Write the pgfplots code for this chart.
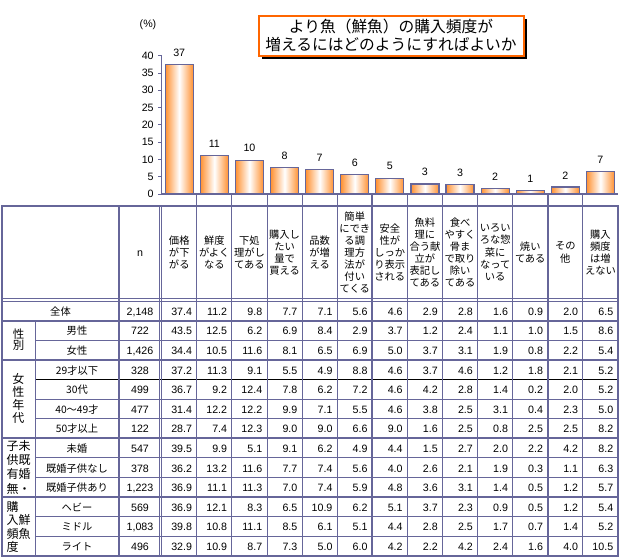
\documentclass[border=0pt]{standalone}
\usepackage{pgfplots}
\pgfplotsset{compat=1.18}
\usepackage{fontspec}
\setmainfont{Liberation Sans}
\newfontfamily\jp{Noto Sans CJK JP}
\definecolor{tline}{RGB}{102,102,153}
\definecolor{barorange}{RGB}{255,145,50}
\definecolor{boxorange}{RGB}{255,102,0}
\begin{document}
\begin{tikzpicture}
\path[use as bounding box] (0,0) rectangle (464.25pt,-417.75pt);
\begin{scope}[x=0.75pt,y=-0.75pt]
% ---------- title ----------
\fill[black] (262,19) rectangle (527,59);
\draw[boxorange, line width=1.2pt, fill=white] (259,16) rectangle (524,56);
\node[align=center, inner sep=0pt, font=\jp\fontsize{11.8}{13.5}\selectfont] at (391,35) {より魚（鮮魚）の購入頻度が\\増えるにはどのようにすればよいか};
\node[font=\fontsize{8}{8}\selectfont, inner sep=0pt] at (148,25) {(\%)};
% ---------- table lines ----------
\tikzset{thin/.style={tline, line width=0.75pt}, thick/.style={tline, line width=1.6pt}}
\foreach \yy in {298.3,301} \draw[thin] (2,\yy) -- (618,\yy);
\foreach \yy in {340.2,399,418.6,457.8,477.4,516.6,536.2} \draw[thin] (35,\yy) -- (618,\yy);
\draw[black, line width=0.75pt] (35,379.4) -- (618,379.4);
\draw[thin] (35,320.6) -- (35,556);
\foreach \xx in {159.3,161.7} \draw[thin] (\xx,206) -- (\xx,556);
\foreach \k in {1,2,3,4,5,7,8,9,10,12} \draw[thin] ({161.7+\k*35.1},194) -- ({161.7+\k*35.1},556);
\foreach \k in {6,11} \draw[thick] ({161.7+\k*35.1},194) -- ({161.7+\k*35.1},556);
\draw[thick] (119,206) -- (119,556);
\foreach \yy in {320.6,359.8,438.2,497} \draw[thick] (2,\yy) -- (618,\yy);
\draw[thick] (2,206) rectangle (618,556);
% ---------- header ----------
\tikzset{hd/.style={align=center, inner sep=0pt, font=\jp\fontsize{7.7}{9.1}\selectfont}}
\node[hd] at ({161.7+0.5*35.1},252.5) {価格\\が下\\がる};
\node[hd] at ({161.7+1.5*35.1},252.5) {鮮度\\がよく\\なる};
\node[hd] at ({161.7+2.5*35.1},252.5) {下処\\理がし\\てある};
\node[hd] at ({161.7+3.5*35.1},252.5) {購入し\\たい\\量で\\買える};
\node[hd] at ({161.7+4.5*35.1},252.5) {品数\\が増\\える};
\node[hd] at ({161.7+5.5*35.1},252.5) {簡単\\にでき\\る調\\理方\\法が\\付い\\てくる};
\node[hd] at ({161.7+6.5*35.1},252.5) {安全\\性が\\しっか\\り表示\\される};
\node[hd] at ({161.7+7.5*35.1},252.5) {魚料\\理に\\合う献\\立が\\表記し\\てある};
\node[hd] at ({161.7+8.5*35.1},252.5) {食べ\\やすく\\骨ま\\で取り\\除い\\てある};
\node[hd] at ({161.7+9.5*35.1},252.5) {いろい\\ろな惣\\菜に\\なって\\いる};
\node[hd] at ({161.7+10.5*35.1},252.5) {焼い\\てある};
\node[hd] at ({161.7+11.5*35.1},252.5) {その\\他};
\node[hd] at ({161.7+12.5*35.1},252.5) {購入\\頻度\\は増\\えない};
\node[inner sep=0pt, font=\fontsize{8}{8}\selectfont] at (140,254) {n};
% ---------- row labels ----------
\tikzset{rl/.style={anchor=base, inner sep=0pt, font=\jp\fontsize{7.7}{9}\selectfont},
         num/.style={anchor=base east, inner sep=0pt, font=\fontsize{8}{8}\selectfont},
         nn/.style={anchor=base, inner sep=0pt, font=\fontsize{8}{8}\selectfont},
         gl/.style={inner sep=0pt}}
\node[rl] at (60.5,{301+14.3}) {全体};
\foreach \r/\t in {1/男性,2/女性,3/29才以下,4/30代,5/40～49才,6/50才以上,7/未婚,8/既婚子供なし,9/既婚子供あり,10/ヘビー,11/ミドル,12/ライト}
  \node[rl] at (77,{301+19.6*\r+14.3}) {\t};
\node[gl, align=center, font=\jp\fontsize{8.6}{8.6}\selectfont] at (18.5,339.5) {性\\別};
\node[gl, align=center, font=\jp\fontsize{9}{9.6}\selectfont] at (18.5,398.5) {女\\性\\年\\代};
\node[gl, align=left, font=\jp\fontsize{9}{10.6}\selectfont] at (18.5,467.3) {子未\\供既\\有婚\\無・};
\node[gl, align=left, font=\jp\fontsize{9}{10}\selectfont] at (18.5,527) {購\hphantom{鮮}\\入鮮\\頻魚\\度\hphantom{鮮}};
% ---------- n ----------
\foreach \r/\t in {0/{2,148},1/722,2/{1,426},3/328,4/499,5/477,6/122,7/547,8/378,9/{1,223},10/569,11/{1,083},12/496}
  \node[nn] at (140,{301+19.6*\r+14.3}) {\t};
% ---------- values ----------
\foreach \r/\vals in {
 0/{37.4,11.2,9.8,7.7,7.1,5.6,4.6,2.9,2.8,1.6,0.9,2.0,6.5},
 1/{43.5,12.5,6.2,6.9,8.4,2.9,3.7,1.2,2.4,1.1,1.0,1.5,8.6},
 2/{34.4,10.5,11.6,8.1,6.5,6.9,5.0,3.7,3.1,1.9,0.8,2.2,5.4},
 3/{37.2,11.3,9.1,5.5,4.9,8.8,4.6,3.7,4.6,1.2,1.8,2.1,5.2},
 4/{36.7,9.2,12.4,7.8,6.2,7.2,4.6,4.2,2.8,1.4,0.2,2.0,5.2},
 5/{31.4,12.2,12.2,9.9,7.1,5.5,4.6,3.8,2.5,3.1,0.4,2.3,5.0},
 6/{28.7,7.4,12.3,9.0,9.0,6.6,9.0,1.6,2.5,0.8,2.5,2.5,8.2},
 7/{39.5,9.9,5.1,9.1,6.2,4.9,4.4,1.5,2.7,2.0,2.2,4.2,8.2},
 8/{36.2,13.2,11.6,7.7,7.4,5.6,4.0,2.6,2.1,1.9,0.3,1.1,6.3},
 9/{36.9,11.1,11.3,7.0,7.4,5.9,4.8,3.6,3.1,1.4,0.5,1.2,5.7},
 10/{36.9,12.1,8.3,6.5,10.9,6.2,5.1,3.7,2.3,0.9,0.5,1.2,5.4},
 11/{39.8,10.8,11.1,8.5,6.1,5.1,4.4,2.8,2.5,1.7,0.7,1.4,5.2},
 12/{32.9,10.9,8.7,7.3,5.0,6.0,4.2,2.2,4.2,2.4,1.6,4.0,10.5}}
{
  \foreach \v [count=\c from 1] in \vals
    \node[num] at ({161.7+\c*35.1-4.5},{301+19.6*\r+14.3}) {\v};
}
\end{scope}
% ---------- bar chart ----------
\begin{axis}[
  at={(121.275pt,-145.5pt)}, anchor=south west,
  scale only axis, width=342.2pt, height=103.7pt,
  xmin=-0.5, xmax=12.5, ymin=0, ymax=40,
  axis x line*=bottom, axis y line*=left,
  axis line style={draw=tline, line width=0.9pt},
  xtick=\empty,
  ytick={0,5,...,40},
  tick align=outside, major tick length=2.5pt,
  tick style={draw=tline, line width=0.75pt},
  yticklabel style={font=\fontsize{8}{8}\selectfont},
  /pgf/number format/assume math mode=true,
  clip=false,
  bb/.style={ybar, bar width=21pt, bar shift=0pt, draw=tline, line width=0.9pt,
    left color=barorange, right color=barorange, middle color=white},
]
\addplot[bb] coordinates {(0,37.4)};
\addplot[bb] coordinates {(1,11.2)};
\addplot[bb] coordinates {(2,9.8)};
\addplot[bb] coordinates {(3,7.7)};
\addplot[bb] coordinates {(4,7.1)};
\addplot[bb] coordinates {(5,5.6)};
\addplot[bb] coordinates {(6,4.6)};
\addplot[bb] coordinates {(7,2.9)};
\addplot[bb] coordinates {(8,2.8)};
\addplot[bb] coordinates {(9,1.6)};
\addplot[bb] coordinates {(10,0.9)};
\addplot[bb] coordinates {(11,2.0)};
\addplot[bb] coordinates {(12,6.5)};
\addplot[draw=none, mark=none, nodes near coords={\pgfmathprintnumber[fixed,precision=0]{\pgfplotspointmeta}},
  nodes near coords style={anchor=south, font=\fontsize{8}{8}\selectfont, black, yshift=2.5pt}]
  coordinates {(0,37.4) (1,11.2) (2,9.8) (3,7.7) (4,7.1) (5,5.6) (6,4.6) (7,2.9) (8,2.8) (9,1.6) (10,0.9) (11,2.0) (12,6.5)};
\end{axis}
\end{tikzpicture}
\end{document}
